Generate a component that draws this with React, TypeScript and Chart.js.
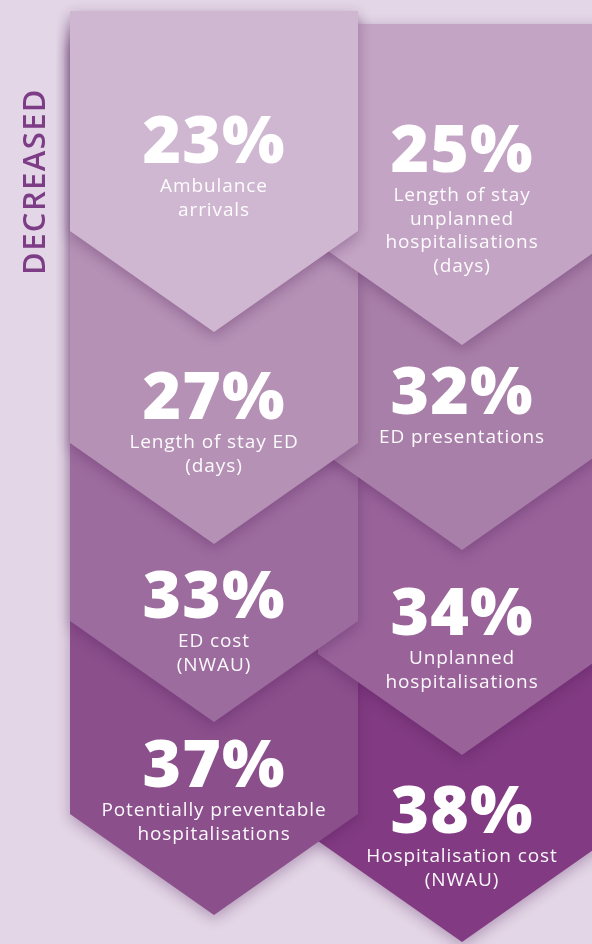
import React, { useEffect, useRef } from "react";
import { Chart, registerables } from "chart.js";

Chart.register(...registerables);

// ---- data ----
const heading = "DECREASED";
const percentages = [23, 25, 27, 32, 33, 34, 37, 38];
const labelLines: string[][] = [
  ["Ambulance", "arrivals"],
  ["Length of stay", "unplanned", "hospitalisations", "(days)"],
  ["Length of stay ED", "(days)"],
  ["ED presentations"],
  ["ED cost", "(NWAU)"],
  ["Unplanned", "hospitalisations"],
  ["Potentially preventable", "hospitalisations"],
  ["Hospitalisation cost", "(NWAU)"],
];

// ---- layout (chart units = pixels of a 592 x 944 plane) ----
const columnOf = [0, 1, 0, 1, 0, 1, 0, 1];
const columnCenter = [214, 462];
const chevronTop = [11, 24, 20, 34, 30, 44, 40, 54];
const chevronTip = [332, 345, 544, 550, 722, 755, 915, 942];
const valueBaseline = [163, 172, 419, 414, 618, 635, 787, 833];
const chevronWidth = 288;
const chevronDrop = 101;

// ---- styles ----
const fills = ["#d0b7d1", "#c3a4c4", "#b591b5", "#a87fa8", "#9d6c9e", "#99639a", "#8b4f8c", "#823b82"];
const background = "#e3d6e6";
const headingColor = "#7d3c86";

const chevronPlugin = {
  id: "chevrons",
  beforeDraw(chart: any) {
    const { ctx, width, height } = chart;
    ctx.save();
    ctx.fillStyle = background;
    ctx.fillRect(0, 0, width, height);
    ctx.restore();
  },
  afterDatasetsDraw(chart: any) {
    const { ctx } = chart;
    const xs = chart.scales.x;
    const ys = chart.scales.y;
    const meta = chart.getDatasetMeta(0);
    const order = percentages.map((_, i) => i).reverse();
    for (const i of order) {
      const pt = meta.data[i];
      const tipX = pt.x;
      const tipY = pt.y;
      const cx = columnCenter[columnOf[i]];
      const left = xs.getPixelForValue(cx - chevronWidth / 2);
      const right = xs.getPixelForValue(cx + chevronWidth / 2);
      const top = ys.getPixelForValue(chevronTop[i]);
      const shoulder = ys.getPixelForValue(chevronTip[i] - chevronDrop);
      ctx.save();
      ctx.beginPath();
      ctx.moveTo(left, top);
      ctx.lineTo(right, top);
      ctx.lineTo(right, shoulder);
      ctx.lineTo(tipX, tipY);
      ctx.lineTo(left, shoulder);
      ctx.closePath();
      ctx.shadowColor = "rgba(70,20,80,0.32)";
      ctx.shadowBlur = 14;
      ctx.shadowOffsetY = 4;
      ctx.fillStyle = fills[i];
      ctx.fill();
      ctx.restore();

      // texts
      const bx = tipX;
      const by = ys.getPixelForValue(valueBaseline[i]);
      ctx.save();
      ctx.fillStyle = "#ffffff";
      ctx.textAlign = "center";
      ctx.textBaseline = "alphabetic";
      ctx.font = '800 66px "Open Sans"';
      (ctx as any).letterSpacing = "1px";
      ctx.fillText(percentages[i] + "%", bx, by);
      ctx.font = '500 19px "Open Sans"';
      (ctx as any).letterSpacing = "0.9px";
      ctx.fillStyle = "rgba(255,255,255,0.96)";
      labelLines[i].forEach((line, k) => {
        ctx.fillText(line, bx, by + 29 + k * 23.5);
      });
      ctx.restore();
    }

    // heading
    ctx.save();
    ctx.translate(xs.getPixelForValue(45), ys.getPixelForValue(181.5));
    ctx.rotate(-Math.PI / 2);
    ctx.fillStyle = headingColor;
    ctx.textAlign = "center";
    ctx.textBaseline = "alphabetic";
    ctx.font = '600 31px "Open Sans"';
    (ctx as any).letterSpacing = "1.4px";
    ctx.fillText(heading, 0, 0);
    ctx.restore();
  },
};

export default function App() {
  const ref = useRef<HTMLCanvasElement | null>(null);
  useEffect(() => {
    document.body.style.margin = "0";
    document.body.style.background = background;
    const canvas = ref.current!;
    const chart = new Chart(canvas, {
      type: "scatter",
      data: {
        datasets: [
          {
            data: percentages.map((v, i) => ({ x: columnCenter[columnOf[i]], y: chevronTip[i], v })),
            pointRadius: 0,
            pointHoverRadius: 0,
          },
        ],
      },
      options: {
        animation: false,
        responsive: false,
        devicePixelRatio: 1,
        layout: { padding: 0 },
        events: [],
        scales: {
          x: { type: "linear", min: 0, max: 592, display: false },
          y: { type: "linear", min: 0, max: 944, reverse: true, display: false },
        },
        plugins: { legend: { display: false }, tooltip: { enabled: false } },
      },
      plugins: [chevronPlugin],
    });
    return () => chart.destroy();
  }, []);
  return (
    <div style={{ width: 592, height: 944, overflow: "hidden" }}>
      <canvas ref={ref} width={592} height={944} style={{ display: "block" }} />
    </div>
  );
}
